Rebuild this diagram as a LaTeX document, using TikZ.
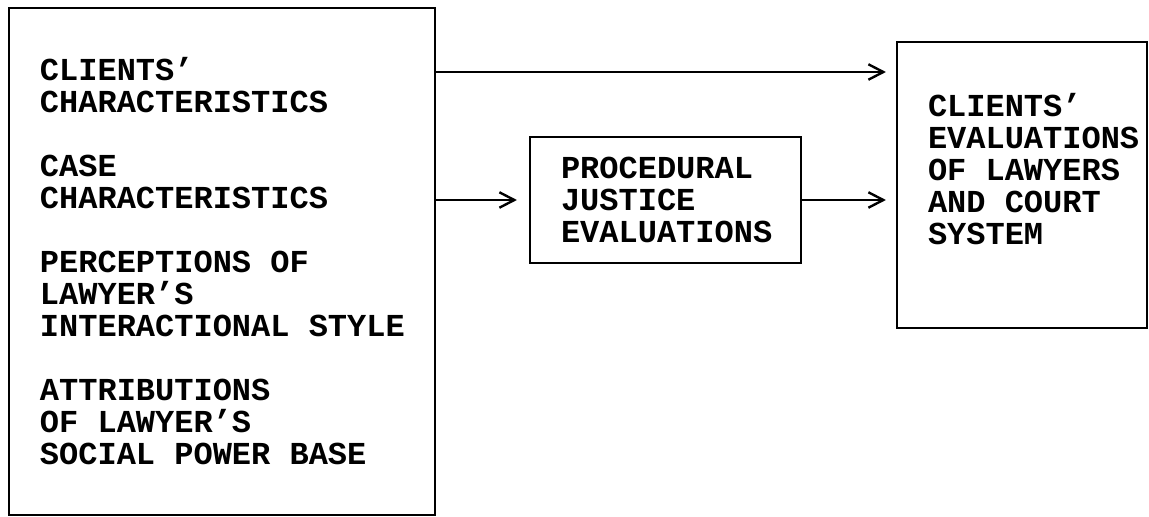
\documentclass[tikz,border=0pt]{standalone}
\usepackage{fontspec}
\setmonofont{Liberation Mono}[WordSpace={1,0,0}]
\usetikzlibrary{arrows.meta}
\hyphenpenalty=10000
\tikzset{
  factorbox/.style={
    rectangle, draw=black, line width=0.8pt, align=flush left,
    inner xsep=11.625pt, inner ysep=0pt,
    font=\fontsize{12pt}{12pt}\selectfont\ttfamily\bfseries,
    execute at begin node={\spaceskip=7.2pt\xspaceskip=7.2pt\relax}
  },
  link/.style={-{Straight Barb[length=5.6pt,width=5.8pt,line width=0.9pt]}, line width=0.75pt, shorten >=3.75pt}
}

\begin{document}
\begin{tikzpicture}[x=0.375pt,y=-0.375pt]
\useasboundingbox (0,0) rectangle (1149,517);
\node[factorbox, text width=136.5pt, minimum height=190.1pt] (factors) at (222,261.5)
  {CLIENTS’\\CHARACTERISTICS\\[12pt]CASE\\CHARACTERISTICS\\[12pt]PERCEPTIONS~OF\\LAWYER’S\\INTERACTIONAL~STYLE\\[12pt]ATTRIBUTIONS\\OF~LAWYER’S\\SOCIAL~POWER~BASE};
\node[factorbox, text width=78.375pt, minimum height=47.25pt] (pje) at (665.5,200)
  {PROCEDURAL\\JUSTICE\\EVALUATIONS};
\node[factorbox, text width=70.5pt, minimum height=107.25pt] (evals) at (1022,185)
  {CLIENTS’\\EVALUATIONS\\OF~LAWYERS\\AND~COURT\\SYSTEM\\\mbox{}};
\coordinate (toprow) at (0,72);
\draw[link] (factors.east |- toprow) -- (evals.west |- toprow);
\draw[link, shorten >=4.5pt] (factors.east |- pje.west) -- (pje.west);
\draw[link] (pje.east) -- (pje.east -| evals.west);
\end{tikzpicture}
\end{document}
